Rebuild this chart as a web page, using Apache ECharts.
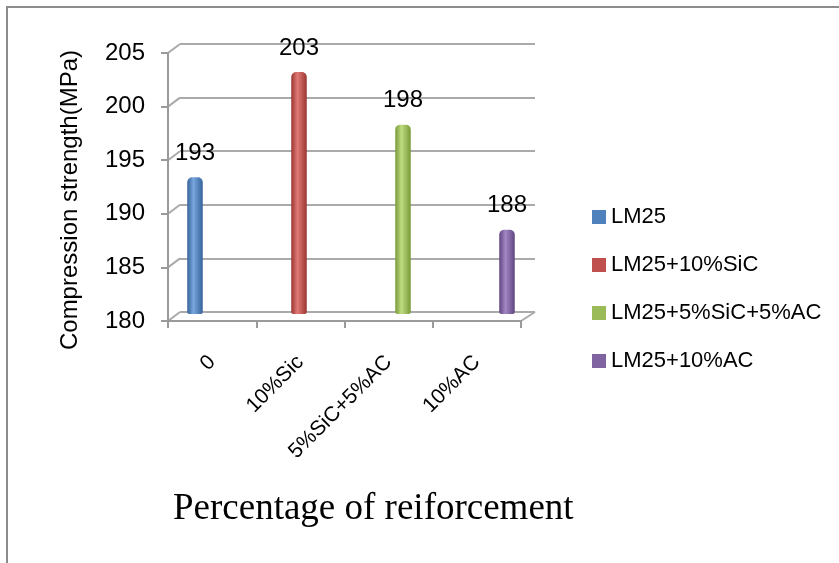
<!DOCTYPE html>
<html><head><meta charset="utf-8">
<script src="https://cdn.jsdelivr.net/npm/echarts@6/dist/echarts.min.js"></script>
<style>
html,body{margin:0;padding:0;background:#fff;}
#c{width:839px;height:563px;}
#frame{position:absolute;left:6px;top:6px;width:840px;height:570px;border-left:2px solid #8c8c8c;border-top:2px solid #8c8c8c;pointer-events:none;}
</style></head>
<body>
<div id="c"></div><div id="frame"></div>
<script>
const categories = ['0', '10%Sic', '5%SiC+5%AC', '10%AC'];
const seriesNames = ['LM25', 'LM25+10%SiC', 'LM25+5%SiC+5%AC', 'LM25+10%AC'];
const valuesLM25 = [193, null, null, null];
const valuesSiC = [null, 203, null, null];
const valuesMix = [null, null, 198, null];
const valuesAC = [null, null, null, 188];
const yTicks = {min: 180, max: 205, interval: 5};
const xTitle = 'Percentage of reiforcement';
const yTitle = 'Compression strength(MPa)';

const colors = [['#4F81BD','#7aa6de','#35629a'], ['#C0504D','#e07a76','#9a3532'], ['#9BBB59','#bedb80','#789a38'], ['#8064A2','#a287c4','#5f4580']];
function grad(c){
  return new echarts.graphic.LinearGradient(0,0,1,0,[
    {offset:0,color:c[2]},{offset:0.4,color:c[1]},{offset:1,color:c[2]}]);
}
const allVals = [valuesLM25, valuesSiC, valuesMix, valuesAC];
const txt = {color:'#000', fontFamily:'Liberation Sans, Arial, sans-serif'};
const chart = echarts.init(document.getElementById('c'));
const series = allVals.map((v,i)=>({
  type:'bar', name:seriesNames[i], data:v, xAxisIndex:0, yAxisIndex:0,
  barWidth:15.5, barGap:'0%',
  itemStyle:{color:grad(colors[i]), borderRadius:[5,5,2,2]},
  label:{show:true, position:'top', distance:12, fontSize:24, ...txt}
}));
const opt = {
  animation:false,
  color: colors.map(c=>c[0]),
  legend:{
    orient:'vertical', left:587, top:201, itemWidth:14, itemHeight:14, itemGap:26,
    icon:'rect',
    data:seriesNames.map((n,i)=>({name:n, itemStyle:{color:colors[i][0]}})),
    textStyle:{fontSize:22, ...txt}
  },
  title:{text:xTitle, left:168, top:486, textStyle:{fontFamily:'Liberation Serif, Times New Roman, serif', fontSize:37, fontWeight:'normal', color:'#000'}},
  grid:[
    {left:174, right:311, top:51, bottom:249},
    {left:180, right:304, top:44, bottom:251},
    {left:168, right:318, top:53, bottom:242}
  ],
  xAxis:[
    {gridIndex:0, type:'category', data:categories, show:false},
    {gridIndex:1, type:'category', data:categories, show:false},
    {gridIndex:2, type:'category', data:categories,
      axisLine:{lineStyle:{color:'#9a9a9a', width:2}},
      axisTick:{show:true, length:7, lineStyle:{color:'#9a9a9a', width:2}},
      axisLabel:{rotate:45, margin:38, fontSize:21, ...txt}}
  ],
  yAxis:[
    {gridIndex:0, type:'value', ...yTicks, show:false},
    {gridIndex:1, type:'value', ...yTicks, axisLine:{show:false}, axisTick:{show:false}, axisLabel:{show:false},
      splitLine:{show:true, lineStyle:{color:'#aaaaaa', width:2}}},
    {gridIndex:2, type:'value', ...yTicks, splitLine:{show:false},
      name:yTitle, nameLocation:'middle', nameGap:86,
      nameTextStyle:{fontSize:24, padding:[0,26,0,0], ...txt},
      axisLine:{show:true, lineStyle:{color:'#9a9a9a', width:2}},
      axisTick:{show:true, length:7, lineStyle:{color:'#9a9a9a', width:2}},
      axisLabel:{margin:23, fontSize:24, ...txt}}
  ],
  series: series
};
chart.setOption(opt);
// 3D connectors between front axis and back wall, derived from the axes
const lines = [];
for (let v = yTicks.min; v <= yTicks.max; v += yTicks.interval) {
  const fx = chart.convertToPixel({yAxisIndex:2}, v);
  const bx = chart.convertToPixel({yAxisIndex:1}, v);
  lines.push({type:'line', shape:{x1:168, y1:fx, x2:180, y2:bx}, style:{stroke:'#aaaaaa', lineWidth:2}, silent:true});
}
const fyb = chart.convertToPixel({yAxisIndex:2}, yTicks.min);
const byb = chart.convertToPixel({yAxisIndex:1}, yTicks.min);
lines.push({type:'line', shape:{x1:521, y1:fyb, x2:535, y2:byb}, style:{stroke:'#aaaaaa', lineWidth:2}, silent:true});
chart.setOption({graphic:lines});
</script>
</body></html>
